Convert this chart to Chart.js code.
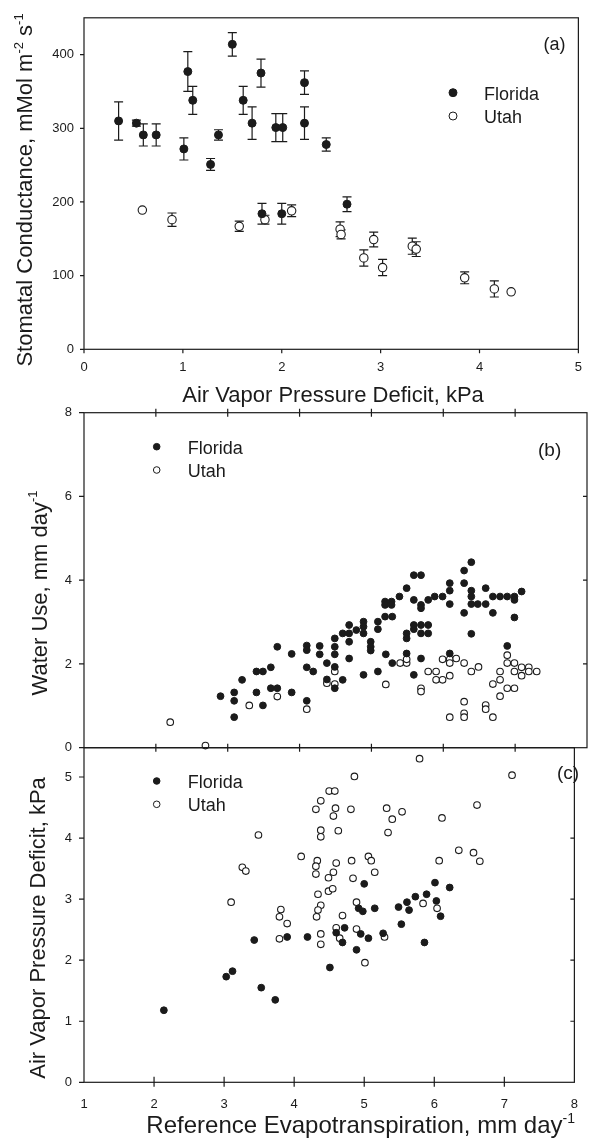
<!DOCTYPE html>
<html>
<head>
<meta charset="utf-8">
<script src="https://cdn.jsdelivr.net/npm/chart.js@4.4.1/dist/chart.umd.min.js"></script>
<style>
  html, body { margin: 0; padding: 0; background: #fff; }
  #wrap { position: relative; width: 592px; height: 1143px; overflow: hidden; }
  #wrap canvas { position: absolute; left: 0; top: 0; }
</style>
</head>
<body>
<div id="wrap">
  <canvas id="panelA" width="592" height="1143"></canvas>
  <canvas id="panelB" width="592" height="1143"></canvas>
  <canvas id="panelC" width="592" height="1143"></canvas>
</div>
<script>
// (a) stomatal conductance vs air VPD, means with error bars
const gsFloridaVpd = [0.35, 0.53, 0.60, 0.73, 1.01, 1.05, 1.10, 1.28, 1.36, 1.50, 1.61, 1.70, 1.79, 1.94, 2.01, 2.23, 2.23, 2.45, 2.66, 1.80, 2.00];
const gsFlorida    = [310, 307, 291, 291, 272, 377, 338, 251, 291, 414, 338, 307, 375, 301, 301, 362, 307, 278, 197, 184, 184];
const gsFloridaErr = [26, 4, 15, 15, 15, 27, 19, 8, 7, 16, 19, 22, 19, 19, 19, 16, 22, 9, 10, 14, 14];
const gsUtahVpd = [0.59, 0.89, 1.57, 1.83, 2.10, 2.59, 2.60, 2.83, 2.93, 3.02, 3.32, 3.36, 3.85, 4.15, 4.32];
const gsUtah    = [189, 176, 167, 176, 188, 163, 156, 124, 149, 111, 140, 136, 97, 82, 78];
const gsUtahErr = [0, 9, 7, 6, 8, 10, 6, 11, 10, 11, 11, 10, 8, 11, 0];

// (b) water use vs reference ET
const wuFloridaEt = [2.90, 3.09, 3.09, 3.09, 3.20, 3.40, 3.49, 3.40, 3.49, 3.60, 3.60, 3.69, 3.69, 3.89, 3.89, 4.10, 4.10, 4.10, 4.10, 4.19, 4.28, 4.28,
  4.38, 4.38, 4.49, 4.49, 4.49, 4.49, 4.49, 4.60, 4.60, 4.69, 4.69, 4.69, 4.69, 4.79, 4.89, 4.89, 4.89, 4.89, 4.99, 4.99, 4.99,
  5.09, 5.09, 5.09, 5.19, 5.20, 5.19, 5.19, 5.28, 5.28, 5.29, 5.29, 5.39, 5.49, 5.49, 5.49, 5.49, 5.59, 5.59, 5.59, 5.59, 5.59,
  5.69, 5.69, 5.69, 5.69, 5.69, 5.69, 5.79, 5.79, 5.79, 5.88, 5.99, 6.09, 6.09, 6.09, 6.09, 6.29, 6.39, 6.29, 6.39, 6.39, 6.39,
  6.29, 6.39, 6.48, 6.59, 6.59, 6.69, 6.69, 6.79, 6.89, 6.99, 6.99, 7.09, 6.99, 6.89];
const wuFlorida = [1.23, 1.32, 1.12, 0.73, 1.62, 1.82, 1.82, 1.32, 1.01, 1.92, 1.42, 1.42, 2.41, 2.24, 1.32, 2.44, 2.33, 1.92, 1.12, 1.82, 2.43, 2.23,
  2.02, 1.63, 2.61, 2.41, 2.23, 1.93, 1.42, 2.73, 1.62, 2.93, 2.73, 2.53, 2.13, 2.81, 3.01, 2.89, 2.73, 1.74, 2.53, 2.41, 2.32,
  3.01, 2.83, 1.82, 3.13, 2.23, 3.49, 3.41, 3.49, 3.41, 3.13, 2.02, 3.61, 3.81, 2.73, 2.61, 2.25, 3.53, 2.93, 2.83, 1.74, 4.12,
  4.12, 3.41, 3.33, 2.93, 2.73, 2.13, 3.53, 2.93, 2.73, 3.61, 3.61, 3.93, 3.75, 3.43, 2.25, 4.23, 4.43, 3.93, 3.75, 3.61, 3.43,
  3.22, 2.72, 3.43, 3.43, 3.81, 3.61, 3.22, 3.61, 3.61, 3.61, 3.53, 3.73, 3.11, 2.43];
const wuUtahEt = [2.20, 2.69, 3.30, 3.69, 4.10, 4.49, 4.38, 4.49, 5.20, 5.40, 5.49, 5.49, 5.69, 5.69, 5.79, 5.90, 5.90, 5.99, 5.99, 6.09, 6.09,
  6.09, 6.18, 6.29, 6.29, 6.29, 6.29, 6.09, 6.39, 6.49, 6.59, 6.59, 6.69, 6.69, 6.79, 6.79, 6.79, 6.89, 6.99, 6.89, 6.89, 6.99,
  6.99, 7.09, 7.09, 7.19, 7.19, 7.30];
const wuUtah = [0.61, 0.05, 1.01, 1.22, 0.92, 1.82, 1.54, 1.52, 1.51, 2.02, 2.02, 2.11, 1.42, 1.34, 1.82, 1.82, 1.62, 1.62, 2.11, 2.11, 2.02,
  1.72, 2.13, 2.02, 1.10, 0.82, 0.73, 0.73, 1.82, 1.93, 1.02, 0.92, 0.73, 1.52, 1.62, 1.82, 1.23, 1.42, 1.42, 2.21, 2.02, 2.02,
  1.82, 1.92, 1.72, 1.92, 1.82, 1.82];

// (c) air VPD vs reference ET
const vpdFloridaEt = [3.43, 3.90, 4.19, 3.03, 3.12, 3.53, 3.73, 2.14, 5.00, 6.01, 6.22, 5.89, 5.73, 5.61, 6.03, 5.49, 5.64, 6.09, 5.15, 4.92,
  4.98, 5.53, 4.72, 4.60, 4.95, 4.69, 5.06, 5.27, 4.89, 5.86, 4.51];
const vpdFlorida = [2.33, 2.38, 2.38, 1.73, 1.82, 1.55, 1.35, 1.18, 3.25, 3.27, 3.19, 3.08, 3.04, 2.95, 2.97, 2.87, 2.82, 2.72, 2.85, 2.85,
  2.80, 2.59, 2.53, 2.45, 2.43, 2.29, 2.36, 2.44, 2.17, 2.29, 1.88];
const vpdUtahEt = [4.38, 4.31, 3.49, 4.38, 4.38, 4.10, 3.26, 3.31, 4.33, 4.31, 4.31, 4.34, 4.38, 4.34, 4.32, 3.10, 3.81, 3.79, 3.90, 3.79,
  4.38, 4.38, 4.50, 4.58, 4.59, 4.56, 4.81, 5.32, 5.54, 5.40, 5.34, 6.11, 6.61, 4.63, 4.60, 4.82, 5.06, 5.10, 5.15, 4.56, 4.49,
  4.84, 6.07, 6.35, 6.56, 6.65, 4.49, 4.55, 4.89, 4.69, 5.84, 6.04, 4.60, 4.65, 4.89, 5.29, 5.01, 5.79, 4.86, 7.11];
const vpdUtah = [4.61, 4.47, 4.05, 4.13, 4.02, 3.70, 3.52, 3.46, 3.63, 3.54, 3.41, 3.08, 2.90, 2.82, 2.71, 2.95, 2.83, 2.71, 2.60, 2.35,
  2.43, 2.26, 4.77, 4.77, 4.49, 4.36, 4.47, 4.49, 4.43, 4.31, 4.09, 4.33, 4.54, 4.12, 3.59, 3.63, 3.70, 3.63, 3.44, 3.44, 3.35,
  3.34, 3.63, 3.80, 3.76, 3.62, 3.13, 3.17, 2.95, 2.73, 2.93, 2.85, 2.53, 2.36, 2.51, 2.38, 1.96, 5.30, 5.01, 5.03];

// tick values
const ticksVpdA = [0, 1, 2, 3, 4, 5];
const ticksGsA = [0, 100, 200, 300, 400];
const ticksEt = [1, 2, 3, 4, 5, 6, 7, 8];
const ticksWuB = [0, 2, 4, 6, 8];
const ticksVpdC = [0, 1, 2, 3, 4, 5];

const INK = '#1b1b1b';
const SANS = '"Liberation Sans", Arial, sans-serif';
const NARROW = '"Liberation Sans Narrow", "Liberation Sans", Arial, sans-serif';

function xy(xs, ys) { return xs.map((x, i) => ({ x: x, y: ys[i] })); }

function drawRich(ctx, segs, x, y, size, rot, align) {
  ctx.save();
  ctx.translate(x, y);
  ctx.rotate(rot || 0);
  ctx.fillStyle = INK;
  ctx.textBaseline = 'alphabetic';
  ctx.textAlign = 'left';
  const fontFor = s => (s.sup ? Math.round(size * 0.6) : size) + 'px ' + SANS;
  let total = 0;
  segs.forEach(s => { ctx.font = fontFor(s); total += ctx.measureText(s.t).width; });
  let cx = align === 'right' ? -total : (align === 'left' ? 0 : -total / 2);
  segs.forEach(s => {
    ctx.font = fontFor(s);
    ctx.fillText(s.t, cx, s.sup ? -size * 0.42 : 0);
    cx += ctx.measureText(s.t).width;
  });
  ctx.restore();
}

// frame, tick marks, error bars, titles, legend
const panelDecor = {
  id: 'panelDecor',
  beforeDatasetsDraw(chart, args, opts) {
    if (!opts.errors) return;
    const { ctx, scales: { x, y } } = chart;
    ctx.save();
    ctx.strokeStyle = INK;
    ctx.lineWidth = 1.2;
    ctx.beginPath();
    opts.errors.forEach(e => {
      e.xs.forEach((xv, i) => {
        const err = e.err[i];
        if (!err) return;
        const px = x.getPixelForValue(xv);
        const top = y.getPixelForValue(e.ys[i] + err);
        const bot = y.getPixelForValue(e.ys[i] - err);
        ctx.moveTo(px, top); ctx.lineTo(px, bot);
        ctx.moveTo(px - 4.5, top); ctx.lineTo(px + 4.5, top);
        ctx.moveTo(px - 4.5, bot); ctx.lineTo(px + 4.5, bot);
      });
    });
    ctx.stroke();
    ctx.restore();
  },
  afterDraw(chart, args, opts) {
    const { ctx, chartArea: a, scales } = chart;
    ctx.save();
    ctx.strokeStyle = INK;
    ctx.lineWidth = 1.2;
    ctx.strokeRect(a.left, a.top, a.right - a.left, a.bottom - a.top);
    ctx.beginPath();
    (opts.marks || []).forEach(m => {
      const s = scales[m.axis];
      s.ticks.forEach((t, i) => {
        if (m.skipEnds && (i === 0 || i === s.ticks.length - 1)) return;
        const p = s.getPixelForValue(t.value);
        if (m.side === 'bottom') { ctx.moveTo(p, a.bottom - m.inner); ctx.lineTo(p, a.bottom + m.outer); }
        if (m.side === 'top') { ctx.moveTo(p, a.top - m.outer); ctx.lineTo(p, a.top + m.inner); }
        if (m.side === 'left') { ctx.moveTo(a.left - m.outer, p); ctx.lineTo(a.left + m.inner, p); }
        if (m.side === 'right') { ctx.moveTo(a.right - m.inner, p); ctx.lineTo(a.right + m.outer, p); }
      });
    });
    ctx.stroke();

    (opts.titles || []).forEach(t => drawRich(ctx, t.segs, t.x, t.y, t.size, t.rot, t.align));

    const lg = opts.legend;
    if (lg) {
      lg.rows.forEach(row => {
        ctx.beginPath();
        ctx.arc(lg.markerX, row.y, lg.r, 0, Math.PI * 2);
        ctx.fillStyle = row.filled ? INK : '#fff';
        ctx.fill();
        ctx.lineWidth = 1;
        ctx.strokeStyle = INK;
        ctx.stroke();
        ctx.fillStyle = INK;
        ctx.font = lg.size + 'px ' + SANS;
        ctx.textAlign = 'left';
        ctx.textBaseline = 'alphabetic';
        ctx.fillText(row.label, lg.textX, row.y + lg.size * 0.38);
      });
    }
    if (opts.tag) {
      ctx.fillStyle = INK;
      ctx.font = opts.tag.size + 'px ' + SANS;
      ctx.textAlign = 'left';
      ctx.textBaseline = 'alphabetic';
      ctx.fillText(opts.tag.text, opts.tag.x, opts.tag.y);
    }
    ctx.restore();
  }
};

function axis(min, max, values, o) {
  return {
    type: 'linear',
    min: min,
    max: max,
    afterBuildTicks: scale => { scale.ticks = values.map(v => ({ value: v })); },
    grid: { display: false, drawTicks: false },
    border: { display: false },
    ticks: {
      display: o.labels,
      color: INK,
      font: { family: o.family || SANS, size: o.fontSize || 13 },
      padding: o.pad || 0,
      maxRotation: 0,
      autoSkip: false,
      callback: v => String(v)
    },
    afterFit: scale => {
      if (o.vertical) scale.width = o.size; else scale.height = o.size;
    }
  };
}

function seriesFlorida(data, r) {
  return { label: 'Florida', data: data, pointRadius: r, pointHoverRadius: r, pointBackgroundColor: INK,
    pointBorderColor: INK, pointBorderWidth: 1, showLine: false, clip: false };
}
function seriesUtah(data, r) {
  return { label: 'Utah', data: data, pointRadius: r, pointHoverRadius: r, pointBackgroundColor: '#fff',
    pointBorderColor: INK, pointBorderWidth: 1.1, showLine: false, clip: false };
}

function makePanel(id, cfg) {
  return new Chart(document.getElementById(id), {
    type: 'scatter',
    data: { datasets: cfg.datasets },
    options: {
      responsive: false,
      animation: false,
      devicePixelRatio: 1,
      events: [],
      layout: { autoPadding: false, padding: cfg.padding },
      scales: { x: cfg.x, y: cfg.y },
      plugins: {
        legend: { display: false },
        tooltip: { enabled: false },
        panelDecor: cfg.decor
      }
    },
    plugins: [panelDecor]
  });
}

// panel (a)
makePanel('panelA', {
  padding: { left: 0, top: 14, right: 5, bottom: 1143 - 349.3 - 40 },
  datasets: [seriesFlorida(xy(gsFloridaVpd, gsFlorida), 4), seriesUtah(xy(gsUtahVpd, gsUtah), 4.2)],
  x: axis(0, 5, ticksVpdA, { labels: true, pad: 10, size: 40 }),
  y: axis(0, 450, ticksGsA, { labels: true, pad: 10, size: 84, vertical: true }),
  decor: {
    errors: [
      { xs: gsFloridaVpd, ys: gsFlorida, err: gsFloridaErr },
      { xs: gsUtahVpd, ys: gsUtah, err: gsUtahErr }
    ],
    marks: [
      { axis: 'x', side: 'bottom', outer: 4, inner: 0 },
      { axis: 'y', side: 'left', outer: 4, inner: 0 }
    ],
    titles: [
      { segs: [{ t: 'Air Vapor Pressure Deficit, kPa' }], x: 333, y: 401.7, size: 22 },
      { segs: [{ t: 'Stomatal Conductance, mMol m' }, { t: '-2', sup: true }, { t: ' s' }, { t: '-1', sup: true }],
        x: 32, y: 190, size: 22, rot: -Math.PI / 2 }
    ],
    legend: { markerX: 453, textX: 484, size: 18, r: 4,
      rows: [{ label: 'Florida', y: 92.7, filled: true }, { label: 'Utah', y: 116, filled: false }] },
    tag: { text: '(a)', x: 543.6, y: 49.5, size: 18 }
  }
});

// panel (b)
makePanel('panelB', {
  padding: { left: 0, top: 412.7, right: 5, bottom: 1143 - 747.7 },
  datasets: [seriesFlorida(xy(wuFloridaEt, wuFlorida), 3.4), seriesUtah(xy(wuUtahEt, wuUtah), 3.3)],
  x: axis(1, 8, ticksEt, { labels: false, size: 0 }),
  y: axis(0, 8, ticksWuB, { labels: true, pad: 12, size: 84, vertical: true, family: NARROW }),
  decor: {
    marks: [
      { axis: 'x', side: 'top', outer: 4, inner: 4, skipEnds: true },
      { axis: 'x', side: 'bottom', outer: 4, inner: 4, skipEnds: true },
      { axis: 'y', side: 'left', outer: 5, inner: 0 },
      { axis: 'y', side: 'right', outer: 0, inner: 4, skipEnds: true }
    ],
    titles: [
      { segs: [{ t: 'Water Use, mm day' }, { t: '-1', sup: true }], x: 46.5, y: 593, size: 22, rot: -Math.PI / 2 }
    ],
    legend: { markerX: 156.7, textX: 187.7, size: 18, r: 3.3,
      rows: [{ label: 'Florida', y: 446.7, filled: true }, { label: 'Utah', y: 470, filled: false }] },
    tag: { text: '(b)', x: 538, y: 456, size: 19 }
  }
});

// panel (c)
makePanel('panelC', {
  padding: { left: 0, top: 747.7, right: 5, bottom: 1143 - 1082.3 - 40 },
  datasets: [seriesFlorida(xy(vpdFloridaEt, vpdFlorida), 3.4), seriesUtah(xy(vpdUtahEt, vpdUtah), 3.3)],
  x: axis(1, 8, ticksEt, { labels: true, pad: 14, size: 40, family: NARROW }),
  y: axis(0, 5.48, ticksVpdC, { labels: true, pad: 12, size: 84, vertical: true, family: NARROW }),
  decor: {
    marks: [
      { axis: 'x', side: 'bottom', outer: 4.5, inner: 5.5, skipEnds: true },
      { axis: 'y', side: 'left', outer: 5, inner: 0 },
      { axis: 'y', side: 'right', outer: 0, inner: 4, skipEnds: true }
    ],
    titles: [
      { segs: [{ t: 'Air Vapor Pressure Deficit, kPa' }], x: 45, y: 928, size: 22, rot: -Math.PI / 2 },
      { segs: [{ t: 'Reference Evapotranspiration, mm day' }, { t: '-1', sup: true }], x: 575, y: 1133.3, size: 24, align: 'right' }
    ],
    legend: { markerX: 156.7, textX: 187.7, size: 18, r: 3.3,
      rows: [{ label: 'Florida', y: 781, filled: true }, { label: 'Utah', y: 804.3, filled: false }] },
    tag: { text: '(c)', x: 557, y: 779, size: 19 }
  }
});
</script>
</body>
</html>
